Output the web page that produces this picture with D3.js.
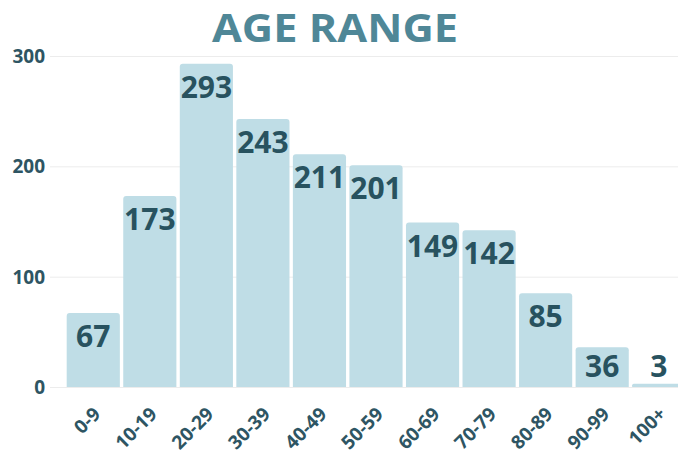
<!DOCTYPE html>
<html>
<head>
<meta charset="utf-8">
<script src="https://cdn.jsdelivr.net/npm/d3@7"></script>
<style>
  body { margin: 0; background: #fff; }
  text { font-family: "Open Sans", sans-serif; font-weight: 700; }
</style>
</head>
<body>
<div id="chart"></div>
<script>
// data
var ageGroups = ["0-9", "10-19", "20-29", "30-39", "40-49", "50-59", "60-69", "70-79", "80-89", "90-99", "100+"];
var counts = [67, 173, 293, 243, 211, 201, 149, 142, 85, 36, 3];
var yTicks = [0, 100, 200, 300];

var width = 678, height = 459;

var svg = d3.select("#chart")
    .append("svg")
    .attr("width", width)
    .attr("height", height);

var x = d3.scaleBand()
    .domain(ageGroups)
    .range([65, 687])
    .paddingInner(0.06)
    .paddingOuter(0.03);

var y = d3.scaleLinear()
    .domain([0, 300])
    .range([387, 56]);

// title
svg.append("text")
    .attr("x", 335)
    .attr("y", 42)
    .attr("text-anchor", "middle")
    .attr("textLength", 246)
    .attr("lengthAdjust", "spacingAndGlyphs")
    .style("font-size", "40px")
    .style("fill", "#4f8797")
    .text("AGE RANGE");

// grid lines + y labels
svg.append("g")
    .selectAll("line")
    .data(yTicks)
    .enter()
    .append("line")
    .attr("x1", 50)
    .attr("x2", width)
    .attr("y1", function (d) { return y(d) + 0.5; })
    .attr("y2", function (d) { return y(d) + 0.5; })
    .attr("stroke", "#ececec")
    .attr("stroke-width", 1);

svg.append("g")
    .selectAll("text")
    .data(yTicks)
    .enter()
    .append("text")
    .attr("x", 45)
    .attr("y", function (d) { return y(d); })
    .attr("dy", "0.36em")
    .attr("text-anchor", "end")
    .style("font-size", "19px")
    .style("fill", "#2e5563")
    .text(function (d) { return d; });

// bars
var data = ageGroups.map(function (g, i) { return {group: g, value: counts[i]}; });

svg.append("g")
    .selectAll("path")
    .data(data)
    .enter()
    .append("path")
    .attr("d", function (d) {
        var x0 = x(d.group), w = x.bandwidth(), y0 = y(d.value), y1 = y(0), r = Math.min(3, (y1 - y0) / 2);
        return "M" + x0 + "," + y1 +
            "V" + (y0 + r) + "Q" + x0 + "," + y0 + " " + (x0 + r) + "," + y0 +
            "H" + (x0 + w - r) + "Q" + (x0 + w) + "," + y0 + " " + (x0 + w) + "," + (y0 + r) +
            "V" + y1 + "Z";
    })
    .style("fill", "#bfdde6");

// value labels
svg.append("g")
    .selectAll("text")
    .data(data)
    .enter()
    .append("text")
    .attr("x", function (d) { return x(d.group) + x.bandwidth() / 2; })
    .attr("y", function (d) { return Math.min(y(d.value) + 34, 377); })
    .attr("text-anchor", "middle")
    .style("font-size", "30px")
    .style("fill", "#28525f")
    .text(function (d) { return d.value; });

// x labels
svg.append("g")
    .selectAll("text")
    .data(ageGroups)
    .enter()
    .append("text")
    .attr("transform", function (d) {
        return "translate(" + (x(d) + x.bandwidth() / 2 - 1) + ",406) rotate(-45)";
    })
    .attr("dy", "0.7em")
    .attr("text-anchor", "end")
    .style("font-size", "19px")
    .style("fill", "#2e5563")
    .text(function (d) { return d; });
</script>
</body>
</html>
